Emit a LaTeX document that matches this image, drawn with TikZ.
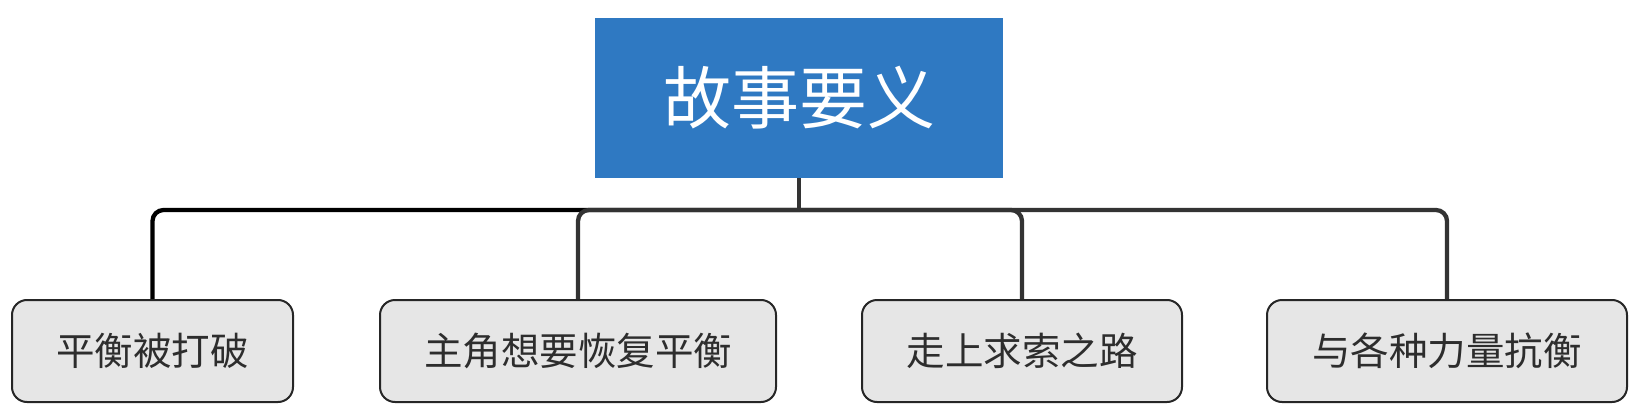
\documentclass[tikz,border=0pt]{standalone}
\usepackage{fontspec}
\newfontfamily\cjk{Noto Sans CJK SC}
\definecolor{rootblue}{RGB}{47,121,194}
\definecolor{leafgray}{RGB}{230,230,230}
\definecolor{linegray}{RGB}{51,51,51}
\definecolor{textgray}{RGB}{45,45,45}
\begin{document}
\begin{tikzpicture}[x=1pt,y=-1pt,
  rootbox/.style={fill=rootblue,draw=none,minimum width=408pt,minimum height=160pt,inner sep=0pt,text=white,font=\cjk\fontsize{68}{72}\selectfont},
  leafbox/.style={fill=leafgray,draw=black!85,line width=2pt,rounded corners=15pt,minimum height=102pt,inner sep=0pt,text=textgray,font=\cjk\fontsize{38.5}{42}\selectfont},
  conn/.style={draw=linegray,line width=4.3pt,rounded corners=11pt},
  conndark/.style={draw=black,line width=4.3pt,rounded corners=11pt}]
\useasboundingbox (0,0) rectangle (1649,420);
\node[rootbox] (root) at (799,98) {故事要义};
\coordinate (j) at (799,210);
\draw[conndark] (j) -| (152.5,300);
\draw[conn] (j) -| (578,300);
\draw[conn] (j) -| (1022,300);
\draw[conn] (j) -| (1447,300);
\draw[draw=linegray,line width=4.3pt] (root.south) -- (j);
\node[leafbox,minimum width=281pt] (b1) at (152.5,351) {平衡被打破};
\node[leafbox,minimum width=396pt] (b2) at (578,351) {主角想要恢复平衡};
\node[leafbox,minimum width=320pt] (b3) at (1022,351) {走上求索之路};
\node[leafbox,minimum width=360pt] (b4) at (1447,351) {与各种力量抗衡};
\end{tikzpicture}
\end{document}
